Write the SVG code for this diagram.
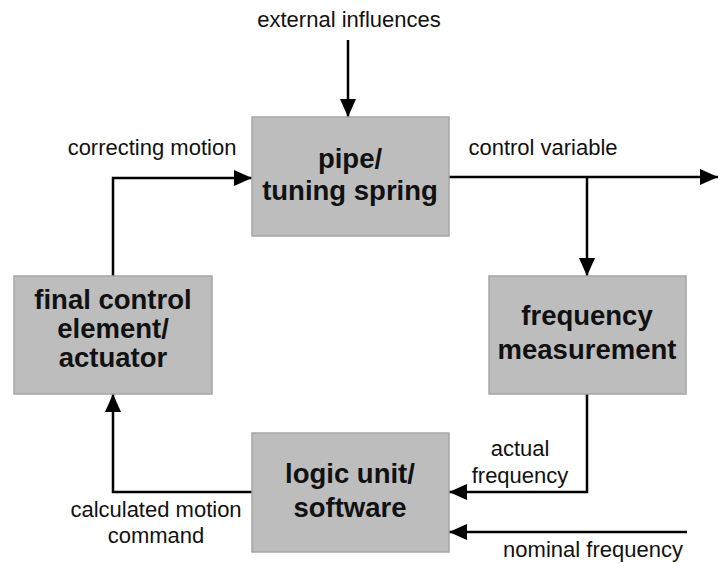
<svg xmlns="http://www.w3.org/2000/svg" width="718" height="563" viewBox="0 0 718 563">
<defs>
<marker id="arr" markerUnits="userSpaceOnUse" viewBox="0 0 18 18" refX="18" refY="9" markerWidth="18" markerHeight="18" orient="auto">
<path d="M0,1 L18,9 L0,17 Z" fill="#000"/>
</marker>
</defs>
<style>
.box{fill:#bdbdbd;stroke:#a6a6a6;stroke-width:1.5}
.bt{font-family:"Liberation Sans",Arial,sans-serif;font-weight:bold;font-size:27.5px;fill:#111;text-anchor:middle}
.lt{font-family:"Liberation Sans",Arial,sans-serif;font-size:22px;fill:#111;text-anchor:middle}
.c{fill:none;stroke:#000;stroke-width:2.5}
</style>
<rect width="718" height="563" fill="#fff"/>
<g id="connectors">
<path class="c" d="M348,40 V117" marker-end="url(#arr)"/>
<path class="c" d="M113,276 V178 H252" marker-end="url(#arr)"/>
<path class="c" d="M449,177 H718" marker-end="url(#arr)"/>
<path class="c" d="M587,177 V276" marker-end="url(#arr)"/>
<path class="c" d="M587,394 V492 H449" marker-end="url(#arr)"/>
<path class="c" d="M687,532 H449" marker-end="url(#arr)"/>
<path class="c" d="M252,492 H113 V394" marker-end="url(#arr)"/>
</g>
<g id="labels">
<text class="lt" x="349" y="27">external influences</text>
<text class="lt" x="152" y="155">correcting motion</text>
<text class="lt" x="543" y="155">control variable</text>
<text class="lt" x="520" y="456">actual</text>
<text class="lt" x="520" y="483">frequency</text>
<text class="lt" x="156" y="517">calculated motion</text>
<text class="lt" x="156" y="543">command</text>
<text class="lt" x="593" y="557">nominal frequency</text>
</g>
<g id="pipe">
<rect class="box" x="252" y="117" width="197" height="119"/>
<text class="bt" x="350" y="168">pipe/</text>
<text class="bt" x="350" y="200">tuning spring</text>
</g>
<g id="actuator">
<rect class="box" x="14" y="276" width="198" height="118"/>
<text class="bt" x="113" y="309">final control</text>
<text class="bt" x="113" y="338">element/</text>
<text class="bt" x="113" y="367">actuator</text>
</g>
<g id="measurement">
<rect class="box" x="489" y="276" width="197" height="118"/>
<text class="bt" x="587" y="325">frequency</text>
<text class="bt" x="587" y="359">measurement</text>
</g>
<g id="logic">
<rect class="box" x="252" y="433" width="197" height="119"/>
<text class="bt" x="350" y="483">logic unit/</text>
<text class="bt" x="350" y="517">software</text>
</g>
</svg>
